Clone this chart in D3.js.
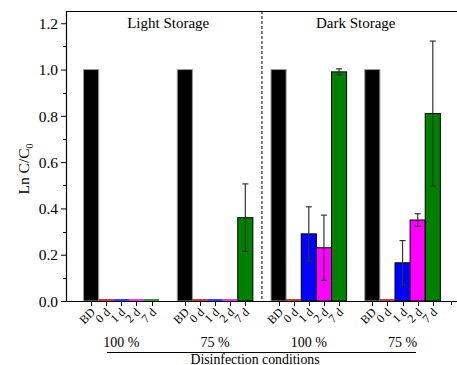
<!DOCTYPE html>
<html>
<head>
<meta charset="utf-8">
<script src="https://cdn.jsdelivr.net/npm/d3@7"></script>
<style>
  body { margin: 0; background: #fff; }
  text { font-family: "Liberation Serif", "Times New Roman", serif; fill: #000; }
</style>
</head>
<body>
<svg id="chart" width="457" height="365"></svg>
<script>
// chart data
var storageNames = ["Light Storage", "Dark Storage"];
var groupNames = ["100 %", "75 %", "100 %", "75 %"];
var timeNames = ["BD", "0 d", "1 d", "2 d", "7 d"];
var timeColors = ["#000000", "#cc0000", "#0000ff", "#ff00ff", "#008000"];

var lnValues = [
  [1, 0, 0, 0, 0],
  [1, 0, 0, 0, 0.36],
  [1, 0, 0.29, 0.23, 0.99],
  [1, 0, 0.165, 0.35, 0.81]
];
var lnErrors = [
  [0, 0, 0, 0, 0],
  [0, 0, 0, 0, 0.146],
  [0, 0, 0.117, 0.141, 0.013],
  [0, 0, 0.096, 0.027, 0.313]
];
var yTicks = [0, 0.2, 0.4, 0.6, 0.8, 1.0, 1.2];

var svg = d3.select("#chart");
// note: "top" is taken by window.top, so plot edges get their own names
var plotLeft = 66, plotTop = 11, plotBottom = 301, plotRight = 460;
var groupStep = 6.2; // slots between group starts

var x = d3.scaleLinear().domain([-1.66, 24.4]).range([plotLeft, plotRight]);
var y = d3.scaleLinear().domain([0, 1.253]).range([plotBottom, plotTop]);
var barW = x(1) - x(0);

function pos(g, i) { return g * groupStep + i; }

// y axis with minor ticks
var minor = d3.range(0.1, 1.25, 0.2);
svg.append("g")
  .selectAll("line").data(minor).enter().append("line")
  .attr("x1", plotLeft - 3).attr("x2", plotLeft)
  .attr("y1", d => Math.round(y(d)) + 0.5).attr("y2", d => Math.round(y(d)) + 0.5)
  .attr("stroke", "#000");

var yAxis = svg.append("g")
  .attr("transform", "translate(" + plotLeft + ",0)")
  .call(d3.axisLeft(y).tickValues(yTicks).tickFormat(d3.format(".1f")).tickSize(5).tickSizeOuter(0));
yAxis.select(".domain").remove();
yAxis.selectAll("text").style("font-size", "15.5px").attr("x", -8).attr("dy", "0.34em");

// frame
svg.append("line").attr("x1", plotLeft + 0.5).attr("x2", plotLeft + 0.5).attr("y1", plotTop).attr("y2", plotBottom + 0.5)
  .attr("stroke", "#000").attr("stroke-width", 1.2);
svg.append("line").attr("x1", plotLeft).attr("x2", 457).attr("y1", plotTop + 0.5).attr("y2", plotTop + 0.5)
  .attr("stroke", "#000").attr("stroke-width", 1.2);

// bars
var bars = [];
lnValues.forEach(function(vals, g) {
  vals.forEach(function(v, i) {
    bars.push({ g: g, i: i, v: v, e: lnErrors[g][i] });
  });
});

var plot = svg.append("g");
plot.selectAll("rect.bar").data(bars.filter(d => d.v > 0)).enter().append("rect")
  .attr("class", "bar")
  .attr("x", d => x(pos(d.g, d.i)) - barW / 2)
  .attr("width", barW)
  .attr("y", d => y(d.v))
  .attr("height", d => y(0) - y(d.v))
  .attr("fill", d => timeColors[d.i])
  .attr("stroke", d => d.i === 0 ? "#999" : "#000")
  .attr("stroke-width", 1);

// zero-height bars show as a thin coloured line
plot.selectAll("line.zero").data(bars.filter(d => d.v === 0)).enter().append("line")
  .attr("class", "zero")
  .attr("x1", d => x(pos(d.g, d.i)) - barW / 2)
  .attr("x2", d => x(pos(d.g, d.i)) + barW / 2)
  .attr("y1", y(0) - 1).attr("y2", y(0) - 1)
  .attr("stroke", d => d3.color(timeColors[d.i]).darker(0.6))
  .attr("stroke-width", 1.5);

// error bars
var eb = plot.selectAll("g.err").data(bars.filter(d => d.e > 0)).enter().append("g")
  .attr("stroke", "#333").attr("stroke-width", 1.2);
eb.append("line")
  .attr("x1", d => x(pos(d.g, d.i))).attr("x2", d => x(pos(d.g, d.i)))
  .attr("y1", d => y(d.v - d.e)).attr("y2", d => y(d.v + d.e));
[-1, 1].forEach(function(s) {
  eb.append("line")
    .attr("x1", d => x(pos(d.g, d.i)) - 3).attr("x2", d => x(pos(d.g, d.i)) + 3)
    .attr("y1", d => y(d.v + s * d.e)).attr("y2", d => y(d.v + s * d.e));
});

// x axis
var tickPos = [];
bars.forEach(function(d) { tickPos.push({ p: pos(d.g, d.i), label: timeNames[d.i] }); });
svg.append("line").attr("x1", plotLeft).attr("x2", 457).attr("y1", plotBottom + 0.5).attr("y2", plotBottom + 0.5)
  .attr("stroke", "#000").attr("stroke-width", 1.2);
var xt = svg.append("g").selectAll("g").data(tickPos).enter().append("g")
  .attr("transform", d => "translate(" + Math.round(x(d.p)) + "," + plotBottom + ")");
xt.append("line").attr("x1", 0.5).attr("x2", 0.5).attr("y1", 0).attr("y2", 5).attr("stroke", "#000");
xt.append("text")
  .attr("transform", "translate(2,9) rotate(-45)")
  .attr("text-anchor", "end")
  .attr("dy", "0.35em")
  .style("font-size", "12px")
  .text(d => d.label);
svg.append("line")
  .attr("x1", Math.round(x(pos(3, 5.2))) + 0.5).attr("x2", Math.round(x(pos(3, 5.2))) + 0.5)
  .attr("y1", plotBottom).attr("y2", plotBottom + 4).attr("stroke", "#000");

// divider between light and dark storage
var divX = (x(pos(1, 4)) + x(pos(2, 0))) / 2;
svg.append("line")
  .attr("x1", divX).attr("x2", divX).attr("y1", plotTop).attr("y2", plotBottom)
  .attr("stroke", "#000").attr("stroke-width", 1).attr("stroke-dasharray", "3,2");

// storage titles
storageNames.forEach(function(name, k) {
  svg.append("text")
    .attr("x", (x(pos(2 * k, 0)) + x(pos(2 * k + 1, 4))) / 2)
    .attr("y", 28)
    .attr("text-anchor", "middle")
    .style("font-size", "15px")
    .text(name);
});

// group labels
groupNames.forEach(function(name, g) {
  svg.append("text")
    .attr("x", (x(pos(g, 0)) + x(pos(g, 4))) / 2)
    .attr("y", 347)
    .attr("text-anchor", "middle")
    .style("font-size", "14px")
    .text(name);
});
svg.append("line").attr("x1", 107).attr("x2", 416).attr("y1", 352.5).attr("y2", 352.5)
  .attr("stroke", "#000").attr("stroke-width", 1);
svg.append("text").attr("x", 255).attr("y", 363.5).attr("text-anchor", "middle")
  .style("font-size", "13.8px").text("Disinfection conditions");

// y label
var yl = svg.append("text")
  .attr("transform", "translate(29,169) rotate(-90)")
  .attr("text-anchor", "middle")
  .style("font-size", "15.5px");
yl.append("tspan").text("Ln C/C");
yl.append("tspan").attr("dy", "4").style("font-size", "10px").text("0");
</script>
</body>
</html>
